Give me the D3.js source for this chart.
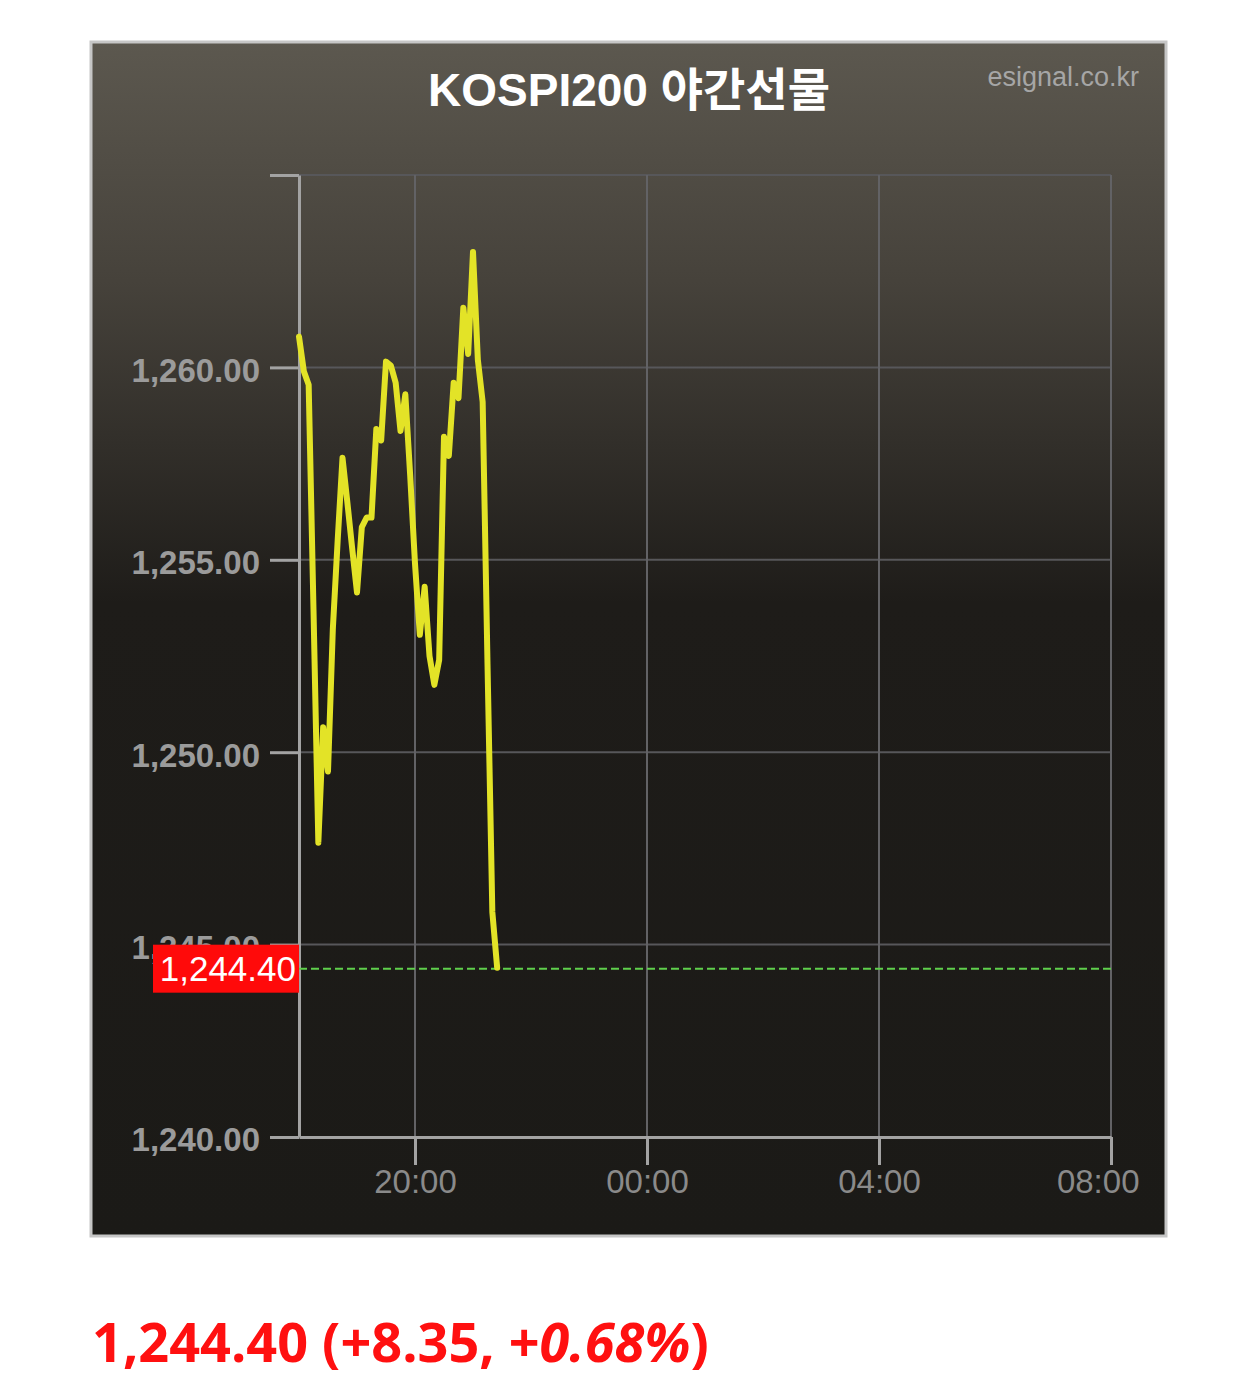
<!DOCTYPE html>
<html>
<head>
<meta charset="utf-8">
<script src="https://cdn.jsdelivr.net/npm/d3@7"></script>
<style>
  body { margin: 0; background: #fff; }
  svg { display: block; }
</style>
</head>
<body>
<div id="chart"></div>
<script>
'use strict';

// KOSPI200 night futures, 5 minute closes
var times = [
    "18:00", "18:05", "18:10", "18:15", "18:20", "18:25", "18:30", "18:35", "18:40", "18:45",
    "18:50", "18:55", "19:00", "19:05", "19:10", "19:15", "19:20", "19:25", "19:30", "19:35",
    "19:40", "19:45", "19:50", "19:55", "20:00", "20:05", "20:10", "20:15", "20:20", "20:25",
    "20:30", "20:35", "20:40", "20:45", "20:50", "20:55", "21:00", "21:05", "21:10", "21:15",
    "21:20", "21:25"
];
var prices = [
    1260.80, 1259.90, 1259.55, 1253.70, 1247.65, 1250.65, 1249.50, 1253.20, 1255.50, 1257.65,
    1256.50, 1255.30, 1254.15, 1255.85, 1256.10, 1256.10, 1258.40, 1258.10, 1260.15, 1260.05,
    1259.60, 1258.35, 1259.30, 1257.20, 1254.90, 1253.05, 1254.30, 1252.50, 1251.75, 1252.40,
    1258.20, 1257.70, 1259.60, 1259.20, 1261.55, 1260.35, 1263.00, 1260.20, 1259.10, 1252.30,
    1245.85, 1244.40
];
var yTicks = [1240, 1245, 1250, 1255, 1260, 1265];
var xTickLabels = ["20:00", "00:00", "04:00", "08:00"];
var title = "KOSPI200 야간선물";
var source = "esignal.co.kr";
var lastPrice = 1244.40;
var change = "+8.35";
var changePct = "0.68%";

var W = 1260, H = 1389;
var panel = {x: 91, y: 42, w: 1075, h: 1194};
var plot = {left: 299, right: 1111, top: 175, bottom: 1137};

// times after midnight belong to the next day
function toDate(s) {
    var p = s.split(':');
    var h = +p[0], m = +p[1];
    return new Date(2024, 0, h < 12 ? 2 : 1, h, m);
}

var data = times.map(function(t, i) {
    return {t: toDate(t), v: prices[i]};
});

var svg = d3.select('#chart').append('svg')
    .attr('width', W)
    .attr('height', H);

var defs = svg.append('defs');
var grad = defs.append('linearGradient')
    .attr('id', 'bg')
    .attr('x1', 0).attr('y1', 0).attr('x2', 0).attr('y2', 1);
grad.append('stop').attr('offset', '0').attr('stop-color', '#5c584f');
grad.append('stop').attr('offset', '0.2').attr('stop-color', '#46423b');
grad.append('stop').attr('offset', '0.47').attr('stop-color', '#1e1c19');
grad.append('stop').attr('offset', '1').attr('stop-color', '#1b1a17');

svg.append('rect')
    .attr('x', panel.x).attr('y', panel.y)
    .attr('width', panel.w).attr('height', panel.h)
    .attr('fill', 'url(#bg)')
    .attr('stroke', '#c6c6c6')
    .attr('stroke-width', 3);

var x = d3.scaleTime()
    .domain([toDate("18:00"), toDate("08:00")])
    .range([plot.left, plot.right]);

var y = d3.scaleLinear()
    .domain([1240, 1265])
    .range([plot.bottom, plot.top]);

// grid
var grid = svg.append('g');
grid.selectAll('line.h')
    .data(yTicks.slice(1))
    .enter().append('line')
    .attr('x1', plot.left).attr('x2', plot.right)
    .attr('y1', function(d) { return y(d); })
    .attr('y2', function(d) { return y(d); })
    .attr('stroke', '#57575a')
    .attr('stroke-width', 2);
grid.selectAll('line.v')
    .data(xTickLabels)
    .enter().append('line')
    .attr('x1', function(d) { return x(toDate(d)); })
    .attr('x2', function(d) { return x(toDate(d)); })
    .attr('y1', plot.top).attr('y2', plot.bottom)
    .attr('stroke', '#626265')
    .attr('stroke-width', 2);

// y axis
var yAxis = d3.axisLeft(y)
    .tickValues(yTicks)
    .tickSize(29)
    .tickSizeOuter(0)
    .tickPadding(10)
    .tickFormat(function(d) { return d === 1265 ? '' : d3.format(',.2f')(d); });

var yg = svg.append('g')
    .attr('transform', 'translate(' + plot.left + ',0)')
    .call(yAxis);
yg.select('.domain').attr('stroke', '#a3a3a3').attr('stroke-width', 3);
yg.selectAll('.tick line').attr('stroke', '#a3a3a3').attr('stroke-width', 3);
yg.selectAll('.tick text')
    .attr('fill', '#9b9b9b')
    .attr('dy', '0.42em')
    .attr('font-family', 'Liberation Sans, Arial, sans-serif')
    .attr('font-weight', 'bold')
    .attr('font-size', '33px');

// x axis
var xAxis = d3.axisBottom(x)
    .tickValues(xTickLabels.map(toDate))
    .tickSize(28)
    .tickSizeOuter(0)
    .tickPadding(5)
    .tickFormat(d3.timeFormat('%H:%M'));

var xg = svg.append('g')
    .attr('transform', 'translate(0,' + plot.bottom + ')')
    .call(xAxis);
xg.select('.domain').attr('stroke', '#a3a3a3').attr('stroke-width', 3);
xg.selectAll('.tick line').attr('stroke', '#a3a3a3').attr('stroke-width', 3);
xg.selectAll('.tick text')
    .attr('fill', '#8a8a8a')
    .attr('font-family', 'Liberation Sans, Arial, sans-serif')
    .attr('font-size', '33px');
// the last label is kept inside the panel
xg.selectAll('.tick text')
    .filter(function(d, i) { return i === xTickLabels.length - 1; })
    .attr('text-anchor', 'end')
    .attr('x', 28);

// current price line
svg.append('line')
    .attr('x1', plot.left).attr('x2', plot.right)
    .attr('y1', y(lastPrice) + 1).attr('y2', y(lastPrice) + 1)
    .attr('stroke', '#5fd04c')
    .attr('stroke-width', 2)
    .attr('stroke-dasharray', '8,4');

// price line
var line = d3.line()
    .x(function(d) { return x(d.t); })
    .y(function(d) { return y(d.v); });

svg.append('path')
    .datum(data)
    .attr('d', line)
    .attr('fill', 'none')
    .attr('stroke', '#e3e327')
    .attr('stroke-width', 6)
    .attr('stroke-linejoin', 'round')
    .attr('stroke-linecap', 'round');

// price tag
svg.append('rect')
    .attr('x', 153).attr('y', y(lastPrice) - 23)
    .attr('width', plot.left - 153).attr('height', 48)
    .attr('fill', '#ff0a0a');
svg.append('text')
    .attr('x', plot.left - 3).attr('y', y(lastPrice) + 1)
    .attr('dy', '0.36em')
    .attr('text-anchor', 'end')
    .attr('fill', '#ffffff')
    .attr('font-family', 'Liberation Sans, Arial, sans-serif')
    .attr('font-size', '35px')
    .text(d3.format(',.2f')(lastPrice));

// titles
svg.append('text')
    .attr('x', 629).attr('y', 106)
    .attr('text-anchor', 'middle')
    .attr('fill', '#ffffff')
    .attr('font-family', 'Liberation Sans, Noto Sans CJK KR, sans-serif')
    .attr('font-weight', 'bold')
    .attr('font-size', '46px')
    .text(title);

svg.append('text')
    .attr('x', 1139).attr('y', 86)
    .attr('text-anchor', 'end')
    .attr('fill', '#a6a6a6')
    .attr('font-family', 'Liberation Sans, Arial, sans-serif')
    .attr('font-size', '27px')
    .text(source);

// summary under the chart
var summary = svg.append('text')
    .attr('x', 92).attr('y', 1362)
    .attr('fill', '#ff1010')
    .attr('font-family', 'Open Sans, sans-serif')
    .attr('font-weight', 'bold')
    .attr('font-size', '54px');
summary.append('tspan').text(d3.format(',.2f')(lastPrice) + ' (' + change + ', +');
summary.append('tspan').attr('font-style', 'italic').text(changePct);
summary.append('tspan').text(')');
</script>
</body>
</html>
